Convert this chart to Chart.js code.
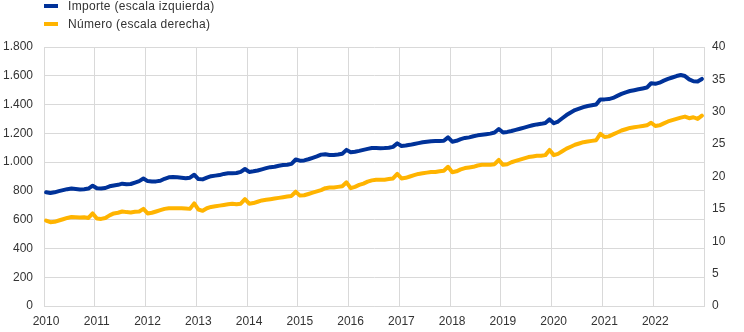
<!DOCTYPE html>
<html>
<head>
<meta charset="utf-8">
<script src="https://cdn.jsdelivr.net/npm/chart.js@4"></script>
<style>
  html, body { margin: 0; padding: 0; background: #fff; }
  #wrap { position: relative; width: 744px; height: 332px; }
  #legend { position: absolute; left: 44px; top: -3px; font: 12px "Liberation Sans", Arial, sans-serif; color: #333; letter-spacing: 0.3px; }
  .item { display: flex; align-items: center; height: 18px; white-space: nowrap; }
  .sw { width: 14px; height: 4px; margin-right: 10px; }
</style>
</head>
<body>
<div id="wrap">
  <canvas id="c" width="744" height="332"></canvas>
  <div id="legend"></div>
</div>
<script>
// Year labels for the monthly x axis (12 months per year, Jan 2010 - Dec 2022)
const years = ['2010','2011','2012','2013','2014','2015','2016','2017','2018','2019','2020','2021','2022'];

// Importe (left scale), monthly
const importe = [
  790, 785, 790, 798, 805, 812, 816, 813, 810, 812, 816, 836,        // 2010
  818, 816, 820, 832, 838, 842, 850, 846, 848, 858, 868, 886,        // 2011
  868, 866, 866, 870, 884, 894, 896, 895, 892, 888, 892, 912,        // 2012
  882, 880, 892, 902, 906, 910, 918, 922, 922, 924, 932, 952,        // 2013
  932, 936, 942, 950, 958, 965, 968, 975, 980, 982, 988, 1018,       // 2014
  1010, 1012, 1020, 1030, 1040, 1052, 1055, 1050, 1050, 1053, 1058, 1085, // 2015
  1068, 1072, 1078, 1085, 1092, 1098, 1098, 1097, 1098, 1100, 1106, 1130, // 2016
  1112, 1115, 1120, 1126, 1132, 1138, 1142, 1145, 1146, 1146, 1148, 1172, // 2017
  1142, 1148, 1160, 1168, 1172, 1180, 1186, 1190, 1194, 1198, 1206, 1230, // 2018
  1206, 1210, 1216, 1224, 1232, 1240, 1248, 1256, 1262, 1266, 1272, 1297, // 2019
  1270, 1282, 1305, 1327, 1345, 1362, 1372, 1382, 1390, 1395, 1400, 1436, // 2020
  1436, 1438, 1446, 1460, 1474, 1485, 1494, 1500, 1506, 1512, 1518, 1548, // 2021
  1544, 1552, 1566, 1578, 1588, 1598, 1605, 1598, 1575, 1562, 1560, 1578  // 2022
];

// Número (right scale), monthly
const numero = [
  13.2, 12.95, 13.0, 13.2, 13.4, 13.6, 13.75, 13.7, 13.65, 13.7, 13.6, 14.3,   // 2010
  13.5, 13.45, 13.6, 14.0, 14.3, 14.4, 14.6, 14.5, 14.45, 14.55, 14.6, 15.0,   // 2011
  14.3, 14.4, 14.6, 14.8, 15.0, 15.1, 15.1, 15.1, 15.1, 15.05, 15.0, 15.85,    // 2012
  14.9, 14.7, 15.1, 15.3, 15.4, 15.5, 15.6, 15.7, 15.8, 15.7, 15.8, 16.5,      // 2013
  15.8, 15.9, 16.1, 16.3, 16.4, 16.5, 16.6, 16.7, 16.8, 16.9, 17.0, 17.65,     // 2014
  17.05, 17.1, 17.3, 17.5, 17.7, 17.9, 18.2, 18.3, 18.3, 18.4, 18.5, 19.1,     // 2015
  18.2, 18.4, 18.7, 18.9, 19.2, 19.4, 19.5, 19.5, 19.5, 19.6, 19.7, 20.4,      // 2016
  19.7, 19.8, 20.0, 20.2, 20.4, 20.5, 20.6, 20.7, 20.7, 20.8, 20.9, 21.5,      // 2017
  20.65, 20.8, 21.1, 21.3, 21.4, 21.5, 21.7, 21.8, 21.8, 21.8, 21.9, 22.55,    // 2018
  21.8, 21.9, 22.2, 22.4, 22.6, 22.8, 23.0, 23.1, 23.2, 23.2, 23.3, 24.1,      // 2019
  23.3, 23.5, 23.9, 24.3, 24.6, 24.9, 25.1, 25.3, 25.4, 25.5, 25.6, 26.6,      // 2020
  26.1, 26.2, 26.5, 26.8, 27.1, 27.3, 27.5, 27.6, 27.7, 27.8, 27.9, 28.3,      // 2021
  27.8, 27.9, 28.2, 28.5, 28.7, 28.9, 29.1, 29.25, 29.0, 29.15, 28.9, 29.4     // 2022
];

const seriesNames = ['Importe (escala izquierda)', 'Número (escala derecha)'];
const colors = ['#003299', '#ffb400'];

// Each month sits in the middle of its slot; year gridlines sit on slot boundaries
const toPoints = vals => vals.map((v, i) => ({ x: i + 0.5, y: v }));

const fontSpec = { family: '"Liberation Sans", Arial, sans-serif', size: 12 };
const textColor = '#333333';
const gridColor = '#d9d9d9';

const thousands = v => String(v).replace(/\B(?=(\d{3})+(?!\d))/g, '.');

// Legend
const legend = document.getElementById('legend');
seriesNames.forEach((name, k) => {
  const row = document.createElement('div');
  row.className = 'item';
  const sw = document.createElement('span');
  sw.className = 'sw';
  sw.style.background = colors[k];
  const t = document.createElement('span');
  t.textContent = name;
  row.appendChild(sw);
  row.appendChild(t);
  legend.appendChild(row);
});

new Chart(document.getElementById('c'), {
  type: 'line',
  data: {
    datasets: [
      {
        label: seriesNames[0], data: toPoints(importe), yAxisID: 'yL',
        borderColor: colors[0], borderWidth: 4, pointRadius: 0, tension: 0,
        borderJoinStyle: 'round', borderCapStyle: 'round'
      },
      {
        label: seriesNames[1], data: toPoints(numero), yAxisID: 'yR',
        borderColor: colors[1], borderWidth: 4, pointRadius: 0, tension: 0,
        borderJoinStyle: 'round', borderCapStyle: 'round'
      }
    ]
  },
  options: {
    responsive: false,
    animation: false,
    events: [],
    layout: { padding: { top: 47, left: 0, right: 0, bottom: 0 } },
    plugins: { legend: { display: false }, tooltip: { enabled: false } },
    scales: {
      x: {
        type: 'linear', min: 0, max: years.length * 12,
        afterBuildTicks: s => {
          s.ticks = years.map((y, k) => ({ value: k * 12 })).concat([{ value: years.length * 12 }]);
        },
        ticks: {
          autoSkip: false, maxRotation: 0, padding: 8, labelOffset: 2,
          color: textColor, font: fontSpec,
          callback: v => (v / 12 < years.length ? years[v / 12] : '')
        },
        grid: { color: gridColor, lineWidth: 1, drawTicks: false },
        border: { color: gridColor },
        afterFit: s => { s.height = 26; }
      },
      yL: {
        position: 'left', min: 0, max: 1800,
        ticks: { stepSize: 200, padding: 11, color: textColor, font: fontSpec, callback: v => thousands(v) },
        grid: { color: gridColor, lineWidth: 1, drawTicks: false },
        border: { color: gridColor },
        afterFit: s => { s.width = 44; }
      },
      yR: {
        position: 'right', min: 0, max: 40,
        ticks: { stepSize: 5, padding: 8, color: textColor, font: fontSpec },
        grid: { display: false, drawTicks: false },
        border: { display: false },
        afterFit: s => { s.width = 40; }
      }
    }
  }
});
</script>
</body>
</html>
